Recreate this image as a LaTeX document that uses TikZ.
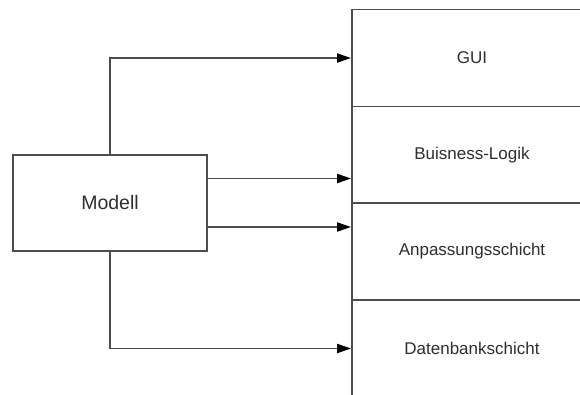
\documentclass[tikz,border=0pt]{standalone}
\usepackage{fontspec}
\setmainfont{Liberation Sans}
\usetikzlibrary{arrows.meta}
\begin{document}
\begin{tikzpicture}[x=1pt,y=-1pt,
  box/.style={draw=linegray,line width=1.8pt,fill=white,inner sep=0pt,
    text=textgray,font=\fontsize{17}{20}\selectfont},
  layer/.style={box,minimum width=240pt,minimum height=97pt},
  arr/.style={draw=linegray,line width=1.8pt,
    -{Triangle[length=14pt,width=9pt,color=black]}}]
\definecolor{linegray}{HTML}{4d4d4d}
\definecolor{textgray}{HTML}{2e2e2e}
\useasboundingbox (0,0) rectangle (580,394);
\clip (0,0) rectangle (580,394);
% layer stack on the right
\node[layer] (gui)  at (472,58)    {GUI};
\node[layer] (busi) at (472,155)   {Buisness-Logik};
\node[layer] (anp)  at (472,251.5) {Anpassungsschicht};
\node[layer] (db)   at (472,348.5) {Datenbankschicht};
% model box
\node[box,minimum width=194pt,minimum height=96pt,
  font=\fontsize{19.5}{22}\selectfont] (modell) at (110,203) {Modell};
% connectors
\draw[arr] (modell.north) |- (gui.west);
\draw[arr] ([yshift=-24pt]modell.east) -- ([yshift=-24pt]modell.east -| busi.west);
\draw[arr] ([yshift=24.5pt]modell.east) -- ([yshift=24.5pt]modell.east -| anp.west);
\draw[arr] (modell.south) |- (db.west);
\end{tikzpicture}
\end{document}
